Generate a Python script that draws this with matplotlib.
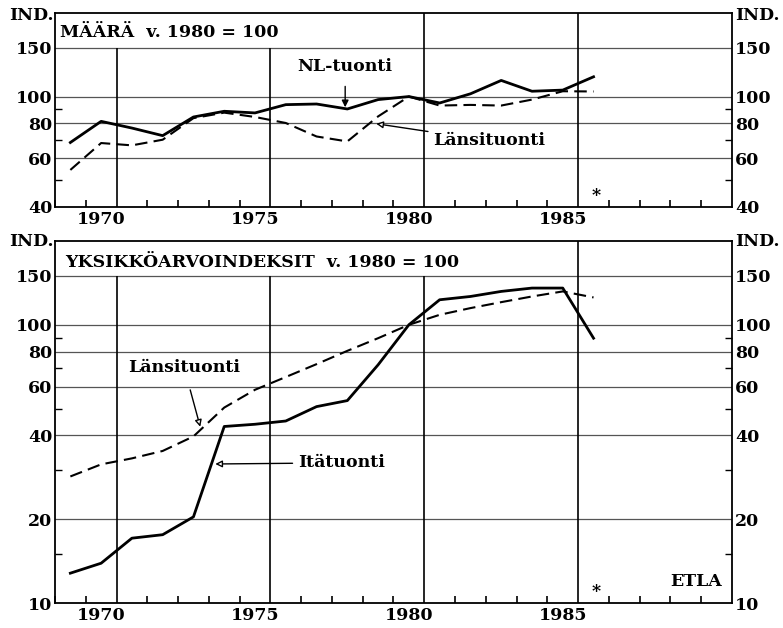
import matplotlib
matplotlib.use("Agg")
import matplotlib.pyplot as plt
from matplotlib.ticker import FixedLocator, NullFormatter

years = list(range(1969, 1987))

# Top panel: volume index (1980 = 100)
nl_volume = [68.3, 81.4, 77.0, 72.3, 84.4, 88.5, 87.3, 93.5, 94.0, 90.2,
             97.5, 100.0, 94.8, 102.3, 114.3, 104.5, 105.5, 117.8]
west_volume = [54.4, 68.0, 66.7, 69.9, 83.6, 87.5, 84.4, 80.3, 71.8, 68.9,
               84.8, 100.0, 92.8, 93.3, 92.8, 97.5, 104.5, 104.3]

# Bottom panel: unit value indices (1980 = 100)
east_unit = [12.8, 13.9, 17.1, 17.6, 20.4, 43.1, 43.9, 45.1, 50.8, 53.4,
             71.8, 100.0, 123.0, 126.4, 131.8, 135.5, 135.5, 89.5]
west_unit = [28.5, 31.5, 33.1, 35.2, 39.7, 50.4, 58.4, 64.9, 72.2, 80.6,
             89.5, 100.0, 108.6, 114.8, 120.6, 126.4, 131.8, 125.4]

top_ticks = [40, 60, 80, 100, 150]
top_minor = [50, 70, 90]
bot_ticks = [10, 20, 40, 60, 80, 100, 150]
bot_minor = [15, 30, 50, 70, 90]
year_labels = [1970, 1975, 1980, 1985]

FONT = "DejaVu Serif"
FS = 12.5
plt.rcParams['font.family'] = FONT
plt.rcParams['font.weight'] = 'bold'

fig = plt.figure(figsize=(7.83, 6.28), dpi=100)
ax1 = fig.add_axes([0.0702, 0.6704, 0.8647, 0.3089])
ax2 = fig.add_axes([0.0702, 0.0398, 0.8647, 0.5764])


def style(ax, ymin, ticks, minor, full_lines):
    ax.set_yscale('log')
    ax.set_xlim(1968.5, 1990.5)
    ax.set_ylim(ymin, 200)
    for s in ax.spines.values():
        s.set_linewidth(1.3)
    ax.yaxis.set_major_locator(FixedLocator(ticks))
    ax.yaxis.set_minor_locator(FixedLocator(minor))
    ax.yaxis.set_major_formatter(matplotlib.ticker.FixedFormatter([str(t) for t in ticks]))
    ax.yaxis.set_minor_formatter(NullFormatter())
    ax.set_xticks(year_labels)
    ax.set_xticklabels([str(y) for y in year_labels])
    ax.xaxis.set_minor_locator(FixedLocator([y + 0.5 for y in range(1968, 1990)
                                             if y + 0.5 not in (1970.5, 1975.5, 1980.5, 1985.5)]))
    ax.tick_params(axis='x', which='major', length=0, pad=3, labelsize=FS)
    ax.tick_params(axis='x', which='minor', direction='in', length=5, width=1.2)
    ax.tick_params(axis='y', which='both', direction='in', left=True, right=True,
                   labelleft=True, labelright=True, labelsize=FS, width=1.0, pad=2)
    ax.tick_params(axis='y', which='major', length=0)
    ax.tick_params(axis='y', which='minor', length=5)
    for t in ticks:
        if t != ymin:
            ax.axhline(t, color='#555555', lw=0.9, zorder=1)
    for xv in (1970.5, 1975.5, 1980.5, 1985.5):
        if xv in full_lines:
            ax.axvline(xv, color='black', lw=1.2, zorder=1)
        else:
            ax.vlines(xv, ymin, 150, color='black', lw=1.2, zorder=1)


style(ax1, 40, top_ticks, top_minor, (1980.5, 1985.5))
style(ax2, 10, bot_ticks, bot_minor, (1985.5,))

ax1.plot(years, nl_volume, color='black', lw=2.0, zorder=3)
ax1.plot(years, west_volume, color='black', lw=1.5, ls=(0, (6, 3)), zorder=3)
ax2.plot(years, east_unit, color='black', lw=2.0, zorder=3)
ax2.plot(years, west_unit, color='black', lw=1.5, ls=(0, (6, 3)), zorder=3)

tk = dict(fontsize=FS, fontweight='bold', family=FONT)

# Titles inside panels
ax1.text(0.008, 0.9, "MÄÄRÄ  v. 1980 = 100", transform=ax1.transAxes,
         ha='left', va='center', **tk)
ax2.text(0.015, 0.94, "YKSIKKÖARVOINDEKSIT  v. 1980 = 100", transform=ax2.transAxes,
         ha='left', va='center', **tk)

# Annotations top
ax1.annotate("NL-tuonti", xy=(1977.93, 91.5), xytext=(1977.93, 128),
             ha='center', va='center', **tk,
             arrowprops=dict(arrowstyle='-|>', color='black', lw=1.0,
                             shrinkA=6, shrinkB=0, mutation_scale=10))
ax1.annotate("Länsituonti", xy=(1978.94, 79.8), xytext=(1980.8, 69.3),
             ha='left', va='center', **tk,
             arrowprops=dict(arrowstyle='-|>', color='black', fc='white', lw=1.0,
                             shrinkA=2, shrinkB=0, mutation_scale=10))
ax1.text(1986.1, 44.1, "*", ha='center', va='center', **tk)

# Annotations bottom
ax2.annotate("Länsituonti", xy=(1973.22, 43.0), xytext=(1972.7, 70),
             ha='center', va='center', **tk,
             arrowprops=dict(arrowstyle='-|>', color='black', fc='white', lw=1.0,
                             shrinkA=8, shrinkB=0, mutation_scale=10))
ax2.annotate("Itätuonti", xy=(1973.71, 31.6), xytext=(1976.4, 31.9),
             ha='left', va='center', **tk,
             arrowprops=dict(arrowstyle='-|>', color='black', fc='white', lw=1.0,
                             shrinkA=2, shrinkB=0, mutation_scale=10))
ax2.text(1986.1, 11.0, "*", ha='center', va='center', **tk)
ax2.text(0.985, 0.06, "ETLA", transform=ax2.transAxes, ha='right', va='center', **tk)

# IND. labels
for yy in (1 - 15 / 628, 1 - 242 / 628):
    fig.text(0.069, yy, "IND.", ha='right', va='center', **tk)
    fig.text(0.939, yy, "IND.", ha='left', va='center', **tk)

fig.savefig("out.png", dpi=100)
